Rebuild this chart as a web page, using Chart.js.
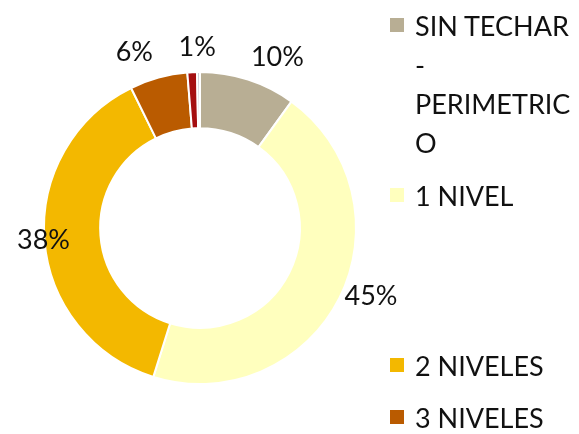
<!DOCTYPE html>
<html>
<head>
<meta charset="utf-8">
<script src="https://cdn.jsdelivr.net/npm/chart.js@4.4.1/dist/chart.umd.min.js"></script>
<style>
    body { margin: 0; background: #fff; font-family: Lato, sans-serif; }
    #wrap { position: relative; width: 579px; height: 434px; overflow: hidden; }
    #chart-box { position: absolute; left: 0; top: 0; width: 400px; height: 434px; }
    .legend-item { position: absolute; left: 390px; width: 189px; font-size: 27px; line-height: 39px; color: #111; }
    .legend-item .box { position: absolute; left: 0; top: 12px; width: 14px; height: 14px; }
    .legend-item .txt { position: absolute; left: 25px; width: 162px; overflow-wrap: anywhere; }
</style>
</head>
<body>
<div id="wrap">
    <div id="chart-box"><canvas id="roof-chart"></canvas></div>
    <div id="legend"></div>
</div>
<script>
const categories = ['SIN TECHAR - PERIMETRICO', '1 NIVEL', '2 NIVELES', '3 NIVELES', '4 NIVELES', 'OTROS'];
const shares = [10, 45, 38, 6, 1, 0.3];
const colors = ['#B8AE94', '#FFFFBE', '#F3B800', '#BA5B00', '#A50F10', '#C9C9D2'];

// label placement tweaks (px outside the ring, degrees of shift)
const labelOffset = [31, 28, 1, 32, 25, 0];
const labelShift = [6.5, -5, 0, -5, 2, 0];
// legend rows (top of first line)
const legendTops = [6, 176, 346, 398, 450, 500];

const legend = document.getElementById('legend');
categories.forEach((name, i) => {
    const item = document.createElement('div');
    item.className = 'legend-item';
    item.style.top = legendTops[i] + 'px';
    item.innerHTML = `<span class="box" style="background:${colors[i]}"></span><span class="txt">${name}</span>`;
    legend.appendChild(item);
});

const pctLabels = {
    id: 'pctLabels',
    afterDatasetsDraw(chart) {
        const ctx = chart.ctx;
        const meta = chart.getDatasetMeta(0);
        ctx.save();
        ctx.font = '27px Lato, sans-serif';
        ctx.fillStyle = '#111';
        ctx.textAlign = 'center';
        ctx.textBaseline = 'middle';
        meta.data.forEach((arc, i) => {
            const v = shares[i];
            if (v < 0.5) return;
            const p = arc.getProps(['x', 'y', 'startAngle', 'endAngle', 'outerRadius'], true);
            const a = (p.startAngle + p.endAngle) / 2 + labelShift[i] * Math.PI / 180;
            const r = p.outerRadius + labelOffset[i];
            ctx.fillText(Math.round(v) + '%', p.x + r * Math.cos(a), p.y + r * Math.sin(a));
        });
        ctx.restore();
    }
};

new Chart(document.getElementById('roof-chart'), {
    type: 'doughnut',
    data: {
        labels: categories,
        datasets: [{
            data: shares,
            backgroundColor: colors,
            borderColor: '#fff',
            borderWidth: 2
        }]
    },
    options: {
        responsive: true,
        maintainAspectRatio: false,
        animation: false,
        cutout: '64%',
        layout: { padding: { left: 43, right: 43, top: 71, bottom: 49 } },
        plugins: {
            legend: { display: false },
            tooltip: { enabled: false }
        }
    },
    plugins: [pctLabels]
});
</script>
</body>
</html>
